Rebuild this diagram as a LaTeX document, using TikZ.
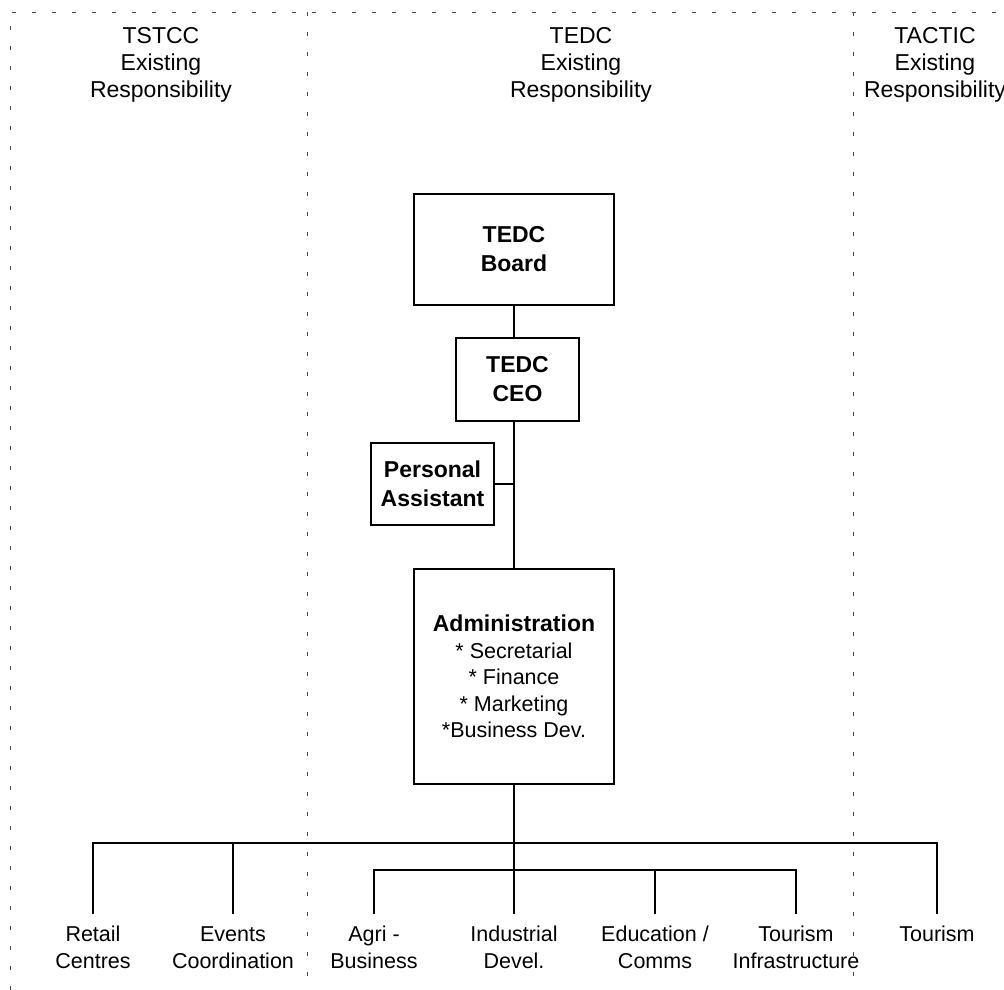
\documentclass[tikz,border=0pt]{standalone}
\usepackage{fontspec}
\setmainfont{Liberation Sans}
\usepackage{tikz}

\tikzset{
  unit/.style={shape=rectangle, draw, line width=1.9pt, align=center, font=\fontsize{23}{29}\selectfont\bfseries},
  admin/.style={shape=rectangle, draw, line width=1.9pt, align=center, font=\fontsize{21.5}{26.5}\selectfont},
  duty/.style={align=center, anchor=north, inner xsep=0pt, inner ysep=12pt, font=\fontsize{21.5}{27}\selectfont},
  header/.style={align=center, anchor=north, inner sep=0pt, font=\fontsize{23}{27}\selectfont},
  link/.style={line width=1.9pt},
  border/.style={line width=0.9pt, black!70, dash pattern=on 4pt off 16pt}
}

\begin{document}
\begin{tikzpicture}[x=1pt, y=-1pt]
\useasboundingbox (0,0) rectangle (1004,990);

\draw [border] (10,990) -- (10,12) -- (1004,12);
\draw [border] (307,12) -- (307,990);
\draw [border] (853,12) -- (853,990);

\node (TSTCC Head) at (161,27) [header] {TSTCC\\Existing\\Responsibility};

\node (TEDC Head) at (581,27) [header] {TEDC\\Existing\\Responsibility};

\node (TACTIC Head) at (935,27) [header] {TACTIC\\Existing\\Responsibility};

\node (Board) at (514,249.5) [unit, minimum width=200pt, minimum height=111pt] {TEDC\\Board};

\node (CEO) at (517.5,379.5) [unit, minimum width=123pt, minimum height=83pt] {TEDC\\CEO};

\node (Assistant) at (432.5,484) [unit, minimum width=123pt, minimum height=82pt] {Personal\\Assistant};

\node (Admin) at (514,676.5) [admin, minimum width=200pt, minimum height=215pt] {{\fontsize{23}{26.5}\selectfont\bfseries Administration}\\{*} Secretarial\\{*} Finance\\{*} Marketing\\{*}Business Dev.};

\coordinate (Top Bus) at (514,843);
\coordinate (Low Bus) at (514,870);

\node (Retail) at (93,914) [duty] {Retail\\Centres};

\node (Events) at (233,914) [duty] {Events\\Coordination};

\node (Agri) at (374,914) [duty] {Agri -\\Business};

\node (Industrial) at (514,914) [duty] {Industrial\\Devel.};

\node (Education) at (655,914) [duty] {Education /\\Comms};

\node (Infrastructure) at (796,914) [duty] {Tourism\\Infrastructure};

\node (Tourism) at (937,914) [duty] {Tourism};

\draw [link] (Board.south) -- (Board.south |- CEO.north);
\draw [link] (Board.south |- CEO.south) -- (Admin.north);
\draw [link] (Assistant.east) -- (Assistant.east -| Admin.north);
\draw [link] (Admin.south) -- (Industrial.north);
\draw [link] (Retail.north) |- (Top Bus) -| (Tourism.north);
\draw [link] (Events.north) -- (Events.north |- Top Bus);
\draw [link] (Agri.north) |- (Low Bus) -| (Infrastructure.north);
\draw [link] (Education.north) -- (Education.north |- Low Bus);
\end{tikzpicture}
\end{document}
